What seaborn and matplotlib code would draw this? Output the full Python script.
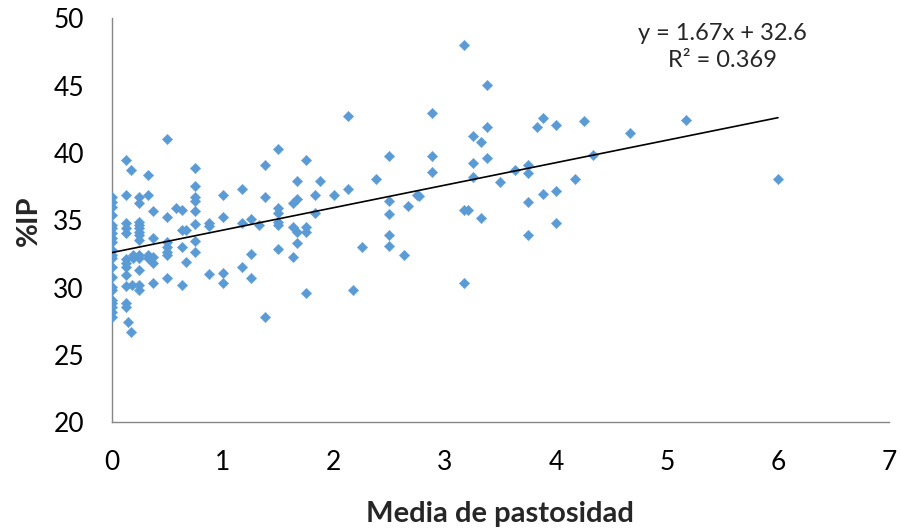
import pandas as pd
import seaborn as sns
import matplotlib.pyplot as plt

# Datos: media de pastosidad (x) y %IP (y)
pastosidad = (
    [0.0] * 21
    + [0.13, 0.17, 0.13, 0.13, 0.13, 0.13, 0.13, 0.13, 0.13, 0.13, 0.13, 0.13, 0.13, 0.15, 0.17]
    + [0.19, 0.19, 0.18]
    + [0.25] * 13
    + [0.33] * 4
    + [0.375] * 5
    + [0.5] * 7
    + [0.58]
    + [0.63] * 4
    + [0.67] * 2
    + [0.75] * 8
    + [0.88] * 3
    + [1.0] * 4
    + [1.17] * 3
    + [1.25] * 3
    + [1.33]
    + [1.38] * 3
    + [1.5] * 6
    + [1.63] * 3
    + [1.67] * 4
    + [1.75] * 4
    + [1.83] * 2
    + [1.88, 2.0, 2.13, 2.13, 2.17, 2.25, 2.38]
    + [2.5] * 5
    + [2.63, 2.67, 2.75, 2.77]
    + [2.88] * 3
    + [3.17] * 3
    + [3.21]
    + [3.25] * 3
    + [3.33] * 2
    + [3.38] * 3
    + [3.5, 3.63]
    + [3.75] * 4
    + [3.83, 3.88, 3.88]
    + [4.0] * 3
    + [4.17, 4.25, 4.33, 4.67, 5.17, 6.0]
)

ip = (
    [36.76, 36.38, 36.01, 35.40, 34.65, 34.41, 34.04, 33.67, 33.42, 32.80, 32.43,
     32.18, 31.56, 30.82, 30.07, 29.83, 29.09, 28.84, 28.59, 28.22, 27.82]
    + [39.48, 38.74, 36.88, 34.78, 34.41, 34.04, 32.11, 31.81, 31.51, 30.94, 30.13,
       28.84, 28.59, 27.48, 26.69]
    + [32.43, 32.20, 30.20]
    + [36.76, 36.27, 34.90, 34.65, 34.41, 34.16, 33.91, 33.54, 32.43, 32.18, 31.31,
       30.20, 29.83]
    + [38.37, 36.88, 32.43, 32.18]
    + [35.72, 33.67, 32.30, 31.81, 30.37]
    + [41.04, 35.23, 33.42, 33.04, 32.67, 32.43, 30.70]
    + [35.89]
    + [35.77, 34.28, 33.00, 30.20]
    + [34.28, 31.88]
    + [38.90, 37.55, 36.76, 36.46, 35.72, 34.73, 33.49, 32.67]
    + [34.78, 34.60, 31.00]
    + [36.88, 35.25, 31.11, 30.33]
    + [37.35, 34.83, 31.56]
    + [35.10, 32.50, 30.74]
    + [34.63]
    + [39.11, 36.76, 27.85]
    + [40.30, 35.92, 35.55, 34.90, 34.65, 32.85]
    + [36.27, 34.53, 32.30]
    + [37.94, 36.56, 34.14, 33.30]
    + [39.48, 34.53, 34.14, 29.63]
    + [36.86, 35.57]
    + [37.92, 36.90, 42.77, 37.31, 29.83, 33.00, 38.09]
    + [39.80, 36.46, 35.47, 33.91, 33.12]
    + [32.43, 36.07, 36.88, 36.81]
    + [42.95, 39.80, 38.59]
    + [48.04, 35.75, 30.37]
    + [35.75]
    + [41.24, 39.28, 38.22]
    + [40.82, 35.15]
    + [45.05, 41.93, 39.63]
    + [37.82, 38.74]
    + [39.09, 38.52, 36.36, 33.89]
    + [41.91, 42.62, 36.98]
    + [42.10, 37.20, 34.83]
    + [38.07, 42.40, 39.87, 41.48, 42.45, 38.09]
)

# Línea de tendencia (según la ecuación del gráfico)
pendiente = 1.67
intercepto = 32.6
texto_ecuacion = "y = 1.67x + 32.6\nR² = 0.369"

data = pd.DataFrame({"pastosidad": pastosidad, "ip": ip})

sns.set_style("white")
plt.rcParams["font.family"] = ["Lato", "DejaVu Sans"]

fig = plt.figure(figsize=(9.01, 5.29), dpi=100)
ax = fig.add_axes([0.124, 0.2017, 0.8627, 0.7637])

sns.scatterplot(
    data=data, x="pastosidad", y="ip", marker="D", s=28,
    color="#5B9BD5", edgecolor="#5B9BD5", linewidth=0.3, ax=ax, zorder=3,
)

x_max = data["pastosidad"].max()
ax.plot([0, x_max], [intercepto, intercepto + pendiente * x_max],
        color="black", linewidth=1.2, zorder=4)

ax.text(5.5, 47.85, texto_ecuacion, ha="center", va="center",
        fontsize=17, linespacing=1.35)

ax.set_xlim(0, 7)
ax.set_ylim(20, 50)
ax.set_xticks(range(0, 8))
ax.set_yticks(range(20, 51, 5))

for side in ["top", "right"]:
    ax.spines[side].set_visible(False)
for side in ["left", "bottom"]:
    ax.spines[side].set_color("#868686")
    ax.spines[side].set_linewidth(1.0)

ax.tick_params(axis="both", direction="out", length=7, width=1,
               color="#868686", labelsize=19, pad=13, labelcolor="black")
ax.tick_params(axis="x", pad=13)

ax.set_xlabel("Media de pastosidad", fontsize=21, fontweight="bold")
ax.set_ylabel("%IP", fontsize=21, fontweight="bold")
ax.xaxis.set_label_coords(0.4996, -0.195)
ax.yaxis.set_label_coords(-0.09, 0.5)

fig.savefig("out.png", dpi=100)
